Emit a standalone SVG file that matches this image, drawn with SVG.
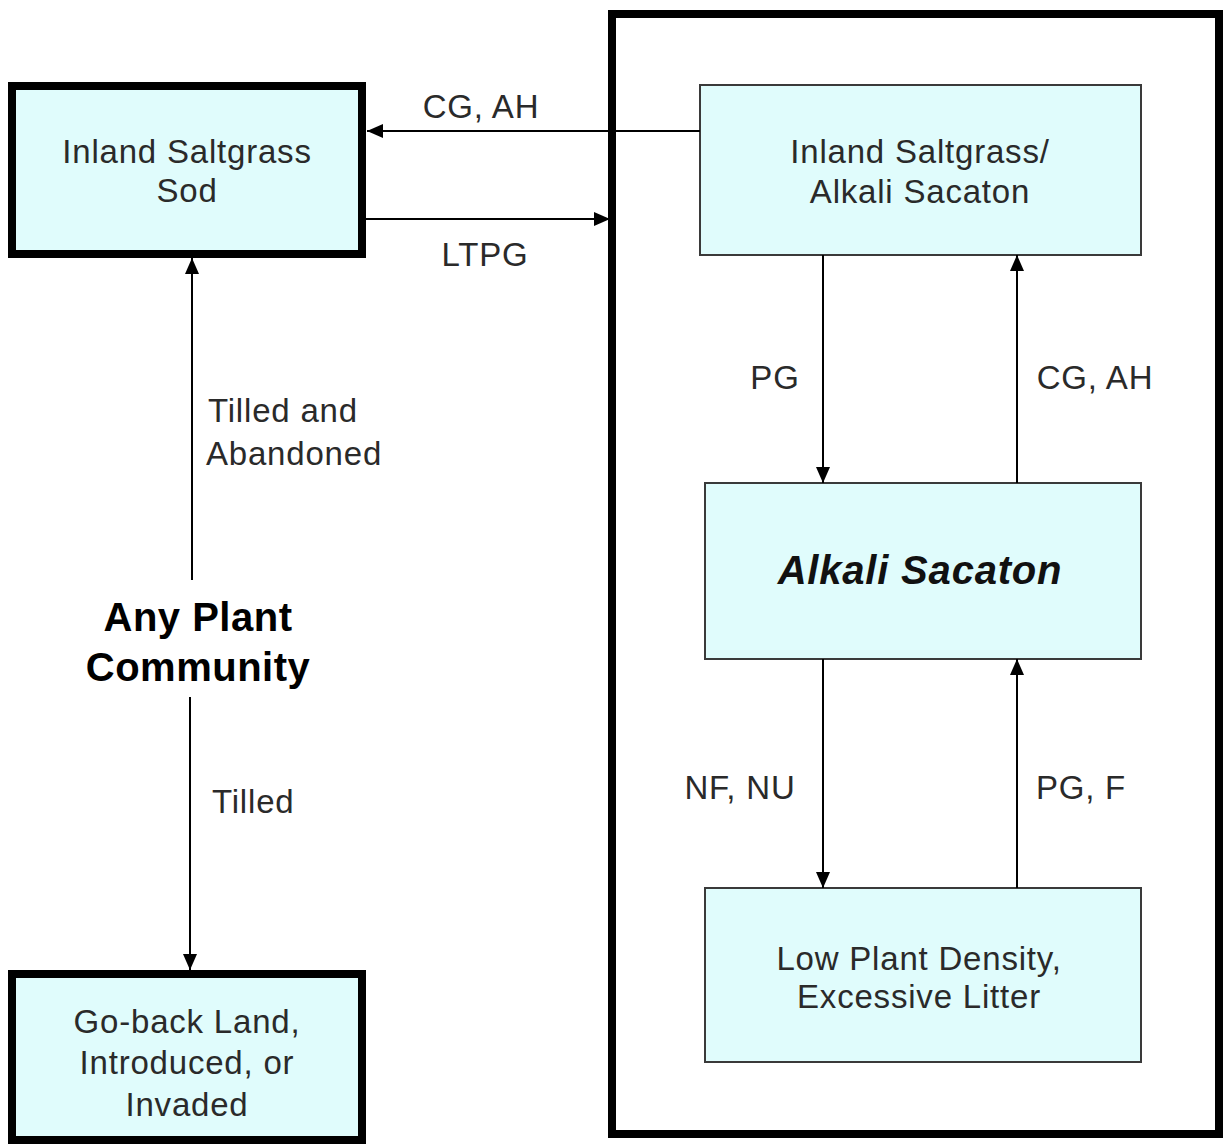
<svg xmlns="http://www.w3.org/2000/svg" width="1226" height="1144" viewBox="0 0 1226 1144">
<defs>
<marker id="ah" markerWidth="16" markerHeight="14" refX="16" refY="7" orient="auto" markerUnits="userSpaceOnUse">
<path d="M0,0 L16,7 L0,14 Z" fill="#000"/>
</marker>
<style>
.thick{fill:#e0fcfc;stroke:#000;stroke-width:8}
.thin{fill:#e0fcfc;stroke:#3a3a3a;stroke-width:2}
.t{font-family:"Liberation Sans",Arial,sans-serif;font-size:33px;letter-spacing:0.8px;fill:#2a2a2a;text-anchor:middle}
.lbl{font-family:"Liberation Sans",Arial,sans-serif;font-size:33px;letter-spacing:0.8px;fill:#2a2a2a}
.b{font-family:"Liberation Sans",Arial,sans-serif;font-size:40px;font-weight:bold;letter-spacing:0.5px;fill:#000;text-anchor:middle}
.bi{font-family:"Liberation Sans",Arial,sans-serif;font-size:40px;font-weight:bold;font-style:italic;letter-spacing:0.8px;fill:#111;text-anchor:middle}
.c{stroke:#000;stroke-width:2;fill:none}
</style>
</defs>
<rect width="1226" height="1144" fill="#fff"/>
<g id="container">
<rect x="612" y="14" width="607" height="1120" fill="none" stroke="#000" stroke-width="8"/>
</g>
<g id="sod">
<rect class="thick" x="12" y="86" width="350" height="168"/>
<text class="t" x="187" y="163">Inland Saltgrass</text>
<text class="t" x="187" y="202">Sod</text>
</g>
<g id="goback">
<rect class="thick" x="12" y="974" width="350" height="166"/>
<text class="t" x="187" y="1033">Go-back Land,</text>
<text class="t" x="187" y="1074">Introduced, or</text>
<text class="t" x="187" y="1116">Invaded</text>
</g>
<g id="anyplant">
<text class="b" x="198" y="631">Any Plant</text>
<text class="b" x="198" y="681">Community</text>
</g>
<g id="saltgrass-sacaton">
<rect class="thin" x="700" y="85" width="441" height="170"/>
<text class="t" x="920" y="163">Inland Saltgrass/</text>
<text class="t" x="920" y="203">Alkali Sacaton</text>
</g>
<g id="alkali-sacaton">
<rect class="thin" x="705" y="483" width="436" height="176"/>
<text class="bi" x="920" y="584">Alkali Sacaton</text>
</g>
<g id="low-density">
<rect class="thin" x="705" y="888" width="436" height="174"/>
<text class="t" x="919" y="970">Low Plant Density,</text>
<text class="t" x="919" y="1008">Excessive Litter</text>
</g>
<g id="connectors">
<line class="c" x1="700" y1="131" x2="367" y2="131" marker-end="url(#ah)"/>
<line class="c" x1="366" y1="219" x2="610" y2="219" marker-end="url(#ah)"/>
<line class="c" x1="823" y1="255" x2="823" y2="483" marker-end="url(#ah)"/>
<line class="c" x1="1017" y1="483" x2="1017" y2="255" marker-end="url(#ah)"/>
<line class="c" x1="823" y1="659" x2="823" y2="888" marker-end="url(#ah)"/>
<line class="c" x1="1017" y1="888" x2="1017" y2="659" marker-end="url(#ah)"/>
<line class="c" x1="192" y1="580" x2="192" y2="258" marker-end="url(#ah)"/>
<line class="c" x1="190" y1="697" x2="190" y2="970" marker-end="url(#ah)"/>
<text class="t" x="481" y="118">CG, AH</text>
<text class="t" x="485" y="266">LTPG</text>
<text class="t" x="775" y="389">PG</text>
<text class="t" x="1095" y="389">CG, AH</text>
<text class="t" x="740" y="799">NF, NU</text>
<text class="t" x="1081" y="799">PG, F</text>
<text class="lbl" x="208" y="422">Tilled and</text>
<text class="lbl" x="206" y="465">Abandoned</text>
<text class="lbl" x="212" y="813">Tilled</text>
</g>
</svg>
